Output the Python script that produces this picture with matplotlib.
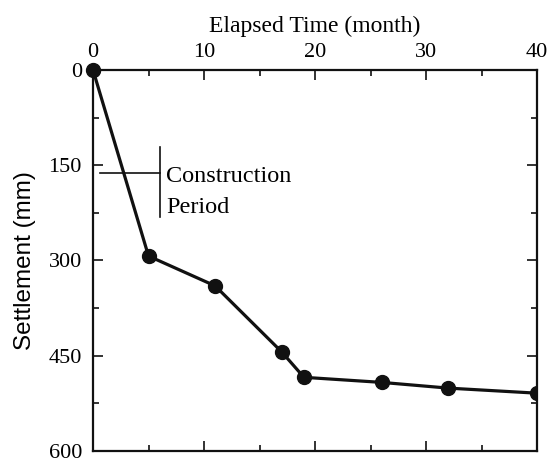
import matplotlib
matplotlib.use("Agg")
import matplotlib.pyplot as plt
from matplotlib.ticker import MultipleLocator

time_month = [0, 5, 11, 17, 19, 26, 32, 40]
settlement_mm = [0, 293, 340, 444, 484, 492, 501, 509]

x_ticks = [0, 10, 20, 30, 40]
y_ticks = [0, 150, 300, 450, 600]

serif = ["Liberation Serif", "DejaVu Serif"]
sans = ["Liberation Sans", "DejaVu Sans"]

fig = plt.figure(figsize=(5.58, 4.63), dpi=100)
ax = fig.add_axes([0.1667, 0.026, 0.7957, 0.8228])

ax.plot(time_month, settlement_mm, color="#111111", lw=2.3, marker="o",
        markersize=10, clip_on=True, zorder=3)
ax.plot([0], [0], marker="o", color="#111111", markersize=10, clip_on=False, zorder=4)

ax.set_xlim(0, 40)
ax.set_ylim(600, 0)
ax.set_xticks(x_ticks)
ax.set_yticks(y_ticks)
ax.xaxis.set_minor_locator(MultipleLocator(5))
ax.yaxis.set_minor_locator(MultipleLocator(75))
ax.xaxis.tick_top()
ax.xaxis.set_label_position("top")
ax.tick_params(which="both", direction="in", top=True, bottom=True, left=True, right=True,
               labeltop=True, labelbottom=False, width=1.2, color="#111111")
ax.tick_params(which="major", length=7, labelsize=16)
ax.tick_params(axis="x", which="major", pad=6)
ax.tick_params(axis="y", which="major", pad=8)
ax.tick_params(which="minor", length=4)
for lab in ax.get_xticklabels() + ax.get_yticklabels():
    lab.set_family(serif)
for s in ax.spines.values():
    s.set_linewidth(1.6)
    s.set_color("#111111")

ax.set_xlabel("Elapsed Time (month)", family=serif, fontsize=17, labelpad=8)
ax.set_ylabel("Settlement (mm)", family=sans, fontsize=17.5)
ax.yaxis.set_label_coords(-0.128, 0.5)

# construction period annotation
ax.plot([0.6, 6.0], [163, 163], color="#111111", lw=1.2)
ax.plot([6.0, 6.0], [121, 232], color="#111111", lw=1.2)
ax.text(6.6, 168, "Construction", family=serif, fontsize=17.5, va="center", ha="left")
ax.text(6.6, 216, "Period", family=serif, fontsize=17.5, va="center", ha="left")

fig.savefig("out.png", dpi=100)
